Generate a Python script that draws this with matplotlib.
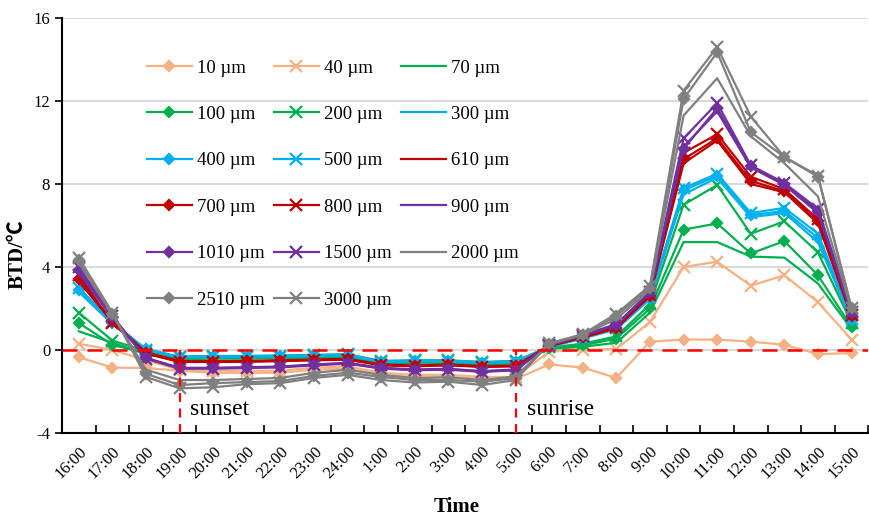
import numpy as np
import matplotlib
matplotlib.use("Agg")
import matplotlib.pyplot as plt

plt.rcParams['font.family'] = ['Liberation Serif', 'Noto Sans CJK SC', 'DejaVu Sans']
plt.rcParams['axes.unicode_minus'] = False

# categories (time of day)
times = ['16:00', '17:00', '18:00', '19:00', '20:00', '21:00', '22:00', '23:00',
         '24:00', '1:00', '2:00', '3:00', '4:00', '5:00', '6:00', '7:00',
         '8:00', '9:00', '10:00', '11:00', '12:00', '13:00', '14:00', '15:00']

# BTD values per particle size
s10 = [-0.35, -0.85, -0.87, -1.00, -1.10, -1.10, -1.10, -0.95, -0.90, -1.20, -1.30, -1.30, -1.40, -1.40, -0.70, -0.85, -1.35, 0.40, 0.50, 0.50, 0.40, 0.25, -0.20, -0.15]
s40 = [0.30, 0.00, -0.50, -0.95, -1.00, -1.00, -1.00, -0.85, -0.80, -1.10, -1.20, -1.20, -1.30, -1.30, -0.08, 0.00, 0.05, 1.35, 4.00, 4.25, 3.10, 3.60, 2.30, 0.50]
s70 = [0.90, 0.35, -0.20, -0.45, -0.42, -0.42, -0.40, -0.37, -0.34, -0.64, -0.62, -0.62, -0.70, -0.65, 0.05, 0.15, 0.35, 1.80, 5.20, 5.20, 4.50, 4.45, 3.20, 1.00]
s100 = [1.30, 0.25, -0.15, -0.40, -0.37, -0.37, -0.35, -0.32, -0.29, -0.60, -0.58, -0.58, -0.66, -0.61, 0.08, 0.22, 0.55, 2.00, 5.80, 6.10, 4.65, 5.25, 3.60, 1.10]
s200 = [1.80, 0.45, -0.05, -0.32, -0.29, -0.29, -0.27, -0.24, -0.21, -0.53, -0.50, -0.50, -0.58, -0.53, 0.12, 0.30, 0.65, 2.20, 7.00, 7.95, 5.60, 6.20, 4.70, 1.30]
s300 = [2.80, 1.25, 0.05, -0.33, -0.30, -0.30, -0.28, -0.25, -0.22, -0.54, -0.51, -0.51, -0.59, -0.54, 0.15, 0.55, 1.00, 2.45, 7.50, 8.30, 6.40, 6.60, 5.20, 1.40]
s400 = [2.90, 1.30, 0.03, -0.35, -0.32, -0.32, -0.30, -0.27, -0.24, -0.56, -0.53, -0.53, -0.61, -0.56, 0.15, 0.58, 1.05, 2.50, 7.70, 8.40, 6.50, 6.70, 5.40, 1.45]
s500 = [3.00, 1.35, 0.02, -0.36, -0.34, -0.34, -0.32, -0.29, -0.26, -0.58, -0.55, -0.55, -0.63, -0.58, 0.18, 0.60, 1.08, 2.55, 7.80, 8.50, 6.60, 6.85, 5.60, 1.50]
s610 = [3.30, 1.35, -0.12, -0.54, -0.54, -0.53, -0.50, -0.46, -0.43, -0.70, -0.75, -0.70, -0.78, -0.75, 0.18, 0.60, 1.05, 2.60, 9.00, 10.10, 8.00, 7.60, 6.10, 1.60]
s700 = [3.40, 1.40, -0.15, -0.56, -0.56, -0.55, -0.52, -0.48, -0.45, -0.72, -0.77, -0.72, -0.80, -0.77, 0.20, 0.62, 1.08, 2.62, 9.20, 10.20, 8.15, 7.65, 6.20, 1.65]
s800 = [3.60, 1.30, -0.18, -0.58, -0.58, -0.57, -0.54, -0.50, -0.47, -0.74, -0.79, -0.74, -0.82, -0.79, 0.22, 0.65, 1.10, 2.65, 9.50, 10.40, 8.35, 7.75, 6.30, 1.70]
s900 = [3.70, 1.55, -0.38, -0.86, -0.86, -0.83, -0.80, -0.70, -0.62, -0.86, -0.94, -0.91, -1.02, -0.94, 0.22, 0.68, 1.20, 2.75, 9.80, 11.50, 8.80, 7.95, 6.60, 1.75]
s1010 = [3.85, 1.60, -0.40, -0.88, -0.88, -0.85, -0.82, -0.72, -0.64, -0.88, -0.96, -0.93, -1.04, -0.96, 0.24, 0.70, 1.22, 2.78, 9.70, 11.65, 8.85, 8.00, 6.70, 1.80]
s1500 = [4.00, 1.65, -0.42, -0.90, -0.90, -0.87, -0.84, -0.74, -0.66, -0.90, -0.98, -0.95, -1.06, -0.98, 0.26, 0.72, 1.25, 2.80, 10.20, 11.90, 8.90, 8.05, 6.80, 1.85]
s2000 = [4.20, 1.70, -0.95, -1.45, -1.45, -1.40, -1.35, -1.10, -0.96, -1.20, -1.36, -1.32, -1.45, -1.28, 0.28, 0.72, 1.50, 2.90, 11.30, 13.10, 10.30, 9.00, 7.40, 1.90]
s2510 = [4.35, 1.75, -1.15, -1.69, -1.60, -1.55, -1.50, -1.25, -1.10, -1.30, -1.45, -1.45, -1.53, -1.36, 0.30, 0.74, 1.65, 3.00, 12.10, 14.35, 10.50, 9.30, 8.35, 2.00]
s3000 = [4.45, 1.80, -1.30, -1.85, -1.80, -1.65, -1.60, -1.35, -1.20, -1.45, -1.57, -1.53, -1.69, -1.45, 0.32, 0.76, 1.75, 3.10, 12.50, 14.60, 11.25, 9.30, 8.40, 2.00]

labels = ['10 µm', '40 µm', '70 µm', '100 µm', '200 µm', '300 µm', '400 µm', '500 µm',
          '610 µm', '700 µm', '800 µm', '900 µm', '1010 µm', '1500 µm', '2000 µm',
          '2510 µm', '3000 µm']
series = [s10, s40, s70, s100, s200, s300, s400, s500, s610, s700, s800, s900,
          s1010, s1500, s2000, s2510, s3000]
colors = ['#F4B183', '#F4B183', '#00B050', '#00B050', '#00B050', '#00B0F0', '#00B0F0',
          '#00B0F0', '#C00000', '#C00000', '#C00000', '#7030A0', '#7030A0', '#7030A0',
          '#808080', '#808080', '#808080']
markers = ['D', 'x', None, 'D', 'x', None, 'D', 'x', None, 'D', 'x', None, 'D', 'x',
           None, 'D', 'x']

sunset_idx = 3
sunrise_idx = 13

fig = plt.figure(figsize=(8.69, 5.16), dpi=100)
ax = fig.add_axes([0.0713, 0.161, 0.928, 0.804])

x = np.arange(len(times))
handles = []
for y, lab, c, m in zip(series, labels, colors, markers):
    ms = 5 if m == 'D' else 8
    h, = ax.plot(x, y, color=c, lw=1.6, marker=m, ms=ms, mew=1.6, label=lab, zorder=3)
    handles.append(h)

ax.axhline(0, color='red', ls=(0, (6, 4)), lw=1.8, zorder=5)
ax.plot([sunset_idx, sunset_idx], [-4, 0], color='red', ls=(0, (4, 3)), lw=1.6, zorder=5)
ax.plot([sunrise_idx, sunrise_idx], [-4, 0], color='red', ls=(0, (4, 3)), lw=1.6, zorder=5)
ax.text(sunset_idx + 0.3, -2.85, 'sunset', fontsize=17, va='center', ha='left')
ax.text(sunrise_idx + 0.35, -2.85, 'sunrise', fontsize=17, va='center', ha='left')

ax.set_xlim(-0.5, len(times) - 0.5)
ax.set_ylim(-4, 16)
ax.set_yticks([-4, 0, 4, 8, 12, 16])
ax.yaxis.grid(True, color='#D9D9D9', lw=1.5, zorder=0)
ax.set_axisbelow(True)

ax.set_xticks(x)
ax.set_xticklabels(times, rotation=45, ha='right', va='top', rotation_mode='anchor', fontsize=12)
ax.set_xticks(np.arange(-0.5, len(times)), minor=True)
ax.tick_params(axis='x', which='major', length=0, pad=8)
ax.tick_params(axis='x', which='minor', direction='in', length=6, width=1.2)
ax.tick_params(axis='y', which='major', direction='out', length=5, width=1.2, labelsize=12)

for sp in ['top', 'right']:
    ax.spines[sp].set_visible(False)
for sp in ['left', 'bottom']:
    ax.spines[sp].set_linewidth(1.5)

ax.set_xlabel('Time', fontsize=15, fontweight='bold')
ax.xaxis.set_label_coords(0.49, -0.155)
ax.set_ylabel('BTD/℃', fontsize=15, fontweight='bold')
ax.yaxis.set_label_coords(-0.043, 0.43)

# legend filled row by row (matplotlib fills column by column)
ncol = 3
order = [i for c in range(ncol) for i in range(c, len(handles), ncol)]
ax.legend([handles[i] for i in order], [labels[i] for i in order],
          loc='upper left', bbox_to_anchor=(0.105, 0.90), ncol=ncol, frameon=False,
          fontsize=13.5, handlelength=2.4, handletextpad=0.3, columnspacing=0.47,
          labelspacing=1.56, borderpad=0, borderaxespad=0)

fig.savefig('out.png', dpi=100)
